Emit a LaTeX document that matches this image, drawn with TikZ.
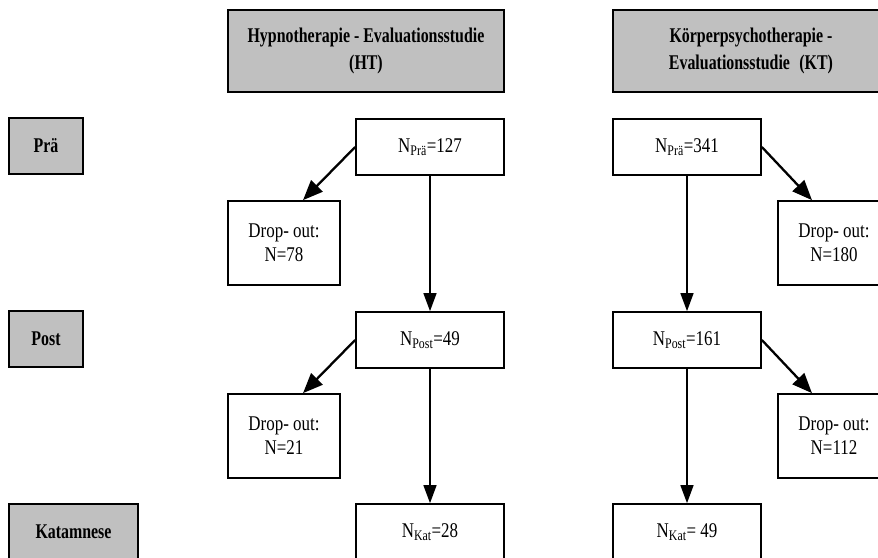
\documentclass[tikz,border=0pt]{standalone}
\usepackage{fontspec}
\setmainfont{Liberation Serif}[FakeStretch=0.81, BoldFeatures={FakeStretch=0.76}]
\usepackage{tikz}
\usetikzlibrary{arrows.meta,positioning}
\definecolor{hdrgray}{RGB}{192,192,192}
\tikzset{
	x=1bp, y=-1bp,
	on grid,
	every node/.style={font=\fontsize{21}{24}\selectfont, align=center, inner sep=0pt},
	box/.style={draw, line width=1.7bp},
	study/.style={box, fill=hdrgray, minimum width=276bp, minimum height=82bp, font=\bfseries\fontsize{21}{27}\selectfont},
	stage/.style={box, fill=hdrgray, minimum width=74bp, minimum height=56bp, font=\bfseries\fontsize{21}{24}\selectfont},
	count/.style={box, minimum width=148bp, minimum height=56bp},
	dropout/.style={box, minimum width=112bp, minimum height=84bp},
	flow/.style={-{Triangle[length=18bp,width=13bp]}, line width=1.5bp},
	split/.style={-{Triangle[length=20bp,width=16bp]}, line width=2.3bp},
}

\begin{document}
\begin{tikzpicture}
	\useasboundingbox (0,0) rectangle (878,558);
	\clip (0,0) rectangle (878,558);

	% headers
	\node[study] (ht) at (366,51) {Hypnotherapie - Evaluationsstudie\\(HT)};
	\node[study] (kt) at (751,51) {Körperpsychotherapie -\\Evaluationsstudie\hspace{0.45em}(KT)};

	% time points
	\node[stage] (pre) at (46,146) {Prä};
	\node[stage] (post) at (46,339) {Post};
	\node[stage, minimum width=129bp] (kat) at (73.5,532) {Katamnese};

	% HT column
	\node[count] (htpre) at (430,147) {N\textsubscript{Prä}=127};
	\node[count, below=193bp of htpre] (htpost) {N\textsubscript{Post}=49};
	\node[count, below=192bp of htpost] (htkat) {N\textsubscript{Kat}=28};
	\node[dropout, below left=96bp and 146bp of htpre] (htdoa) {Drop- out:\\N=78};
	\node[dropout, below left=96bp and 146bp of htpost] (htdob) {Drop- out:\\N=21};

	% KT column
	\node[count] (ktpre) at (687,147) {N\textsubscript{Prä}=341};
	\node[count, below=193bp of ktpre] (ktpost) {N\textsubscript{Post}=161};
	\node[count, below=192bp of ktpost] (ktkat) {N\textsubscript{Kat}= 49};
	\node[dropout, below right=96bp and 147bp of ktpre] (ktdoa) {Drop- out:\\N=180};
	\node[dropout, below right=96bp and 147bp of ktpost] (ktdob) {Drop- out:\\N=112};

	% arrows
	\draw[flow] (htpre.south) -- (htpost.north);
	\draw[flow] (htpost.south) -- (htkat.north);
	\draw[split] (htpre.west) -- ([xshift=19bp]htdoa.north);
	\draw[split] (htpost.west) -- ([xshift=19bp]htdob.north);

	\draw[flow] (ktpre.south) -- (ktpost.north);
	\draw[flow] (ktpost.south) -- (ktkat.north);
	\draw[split] (ktpre.east) -- ([xshift=-22bp]ktdoa.north);
	\draw[split] (ktpost.east) -- ([xshift=-22bp]ktdob.north);
\end{tikzpicture}
\end{document}
